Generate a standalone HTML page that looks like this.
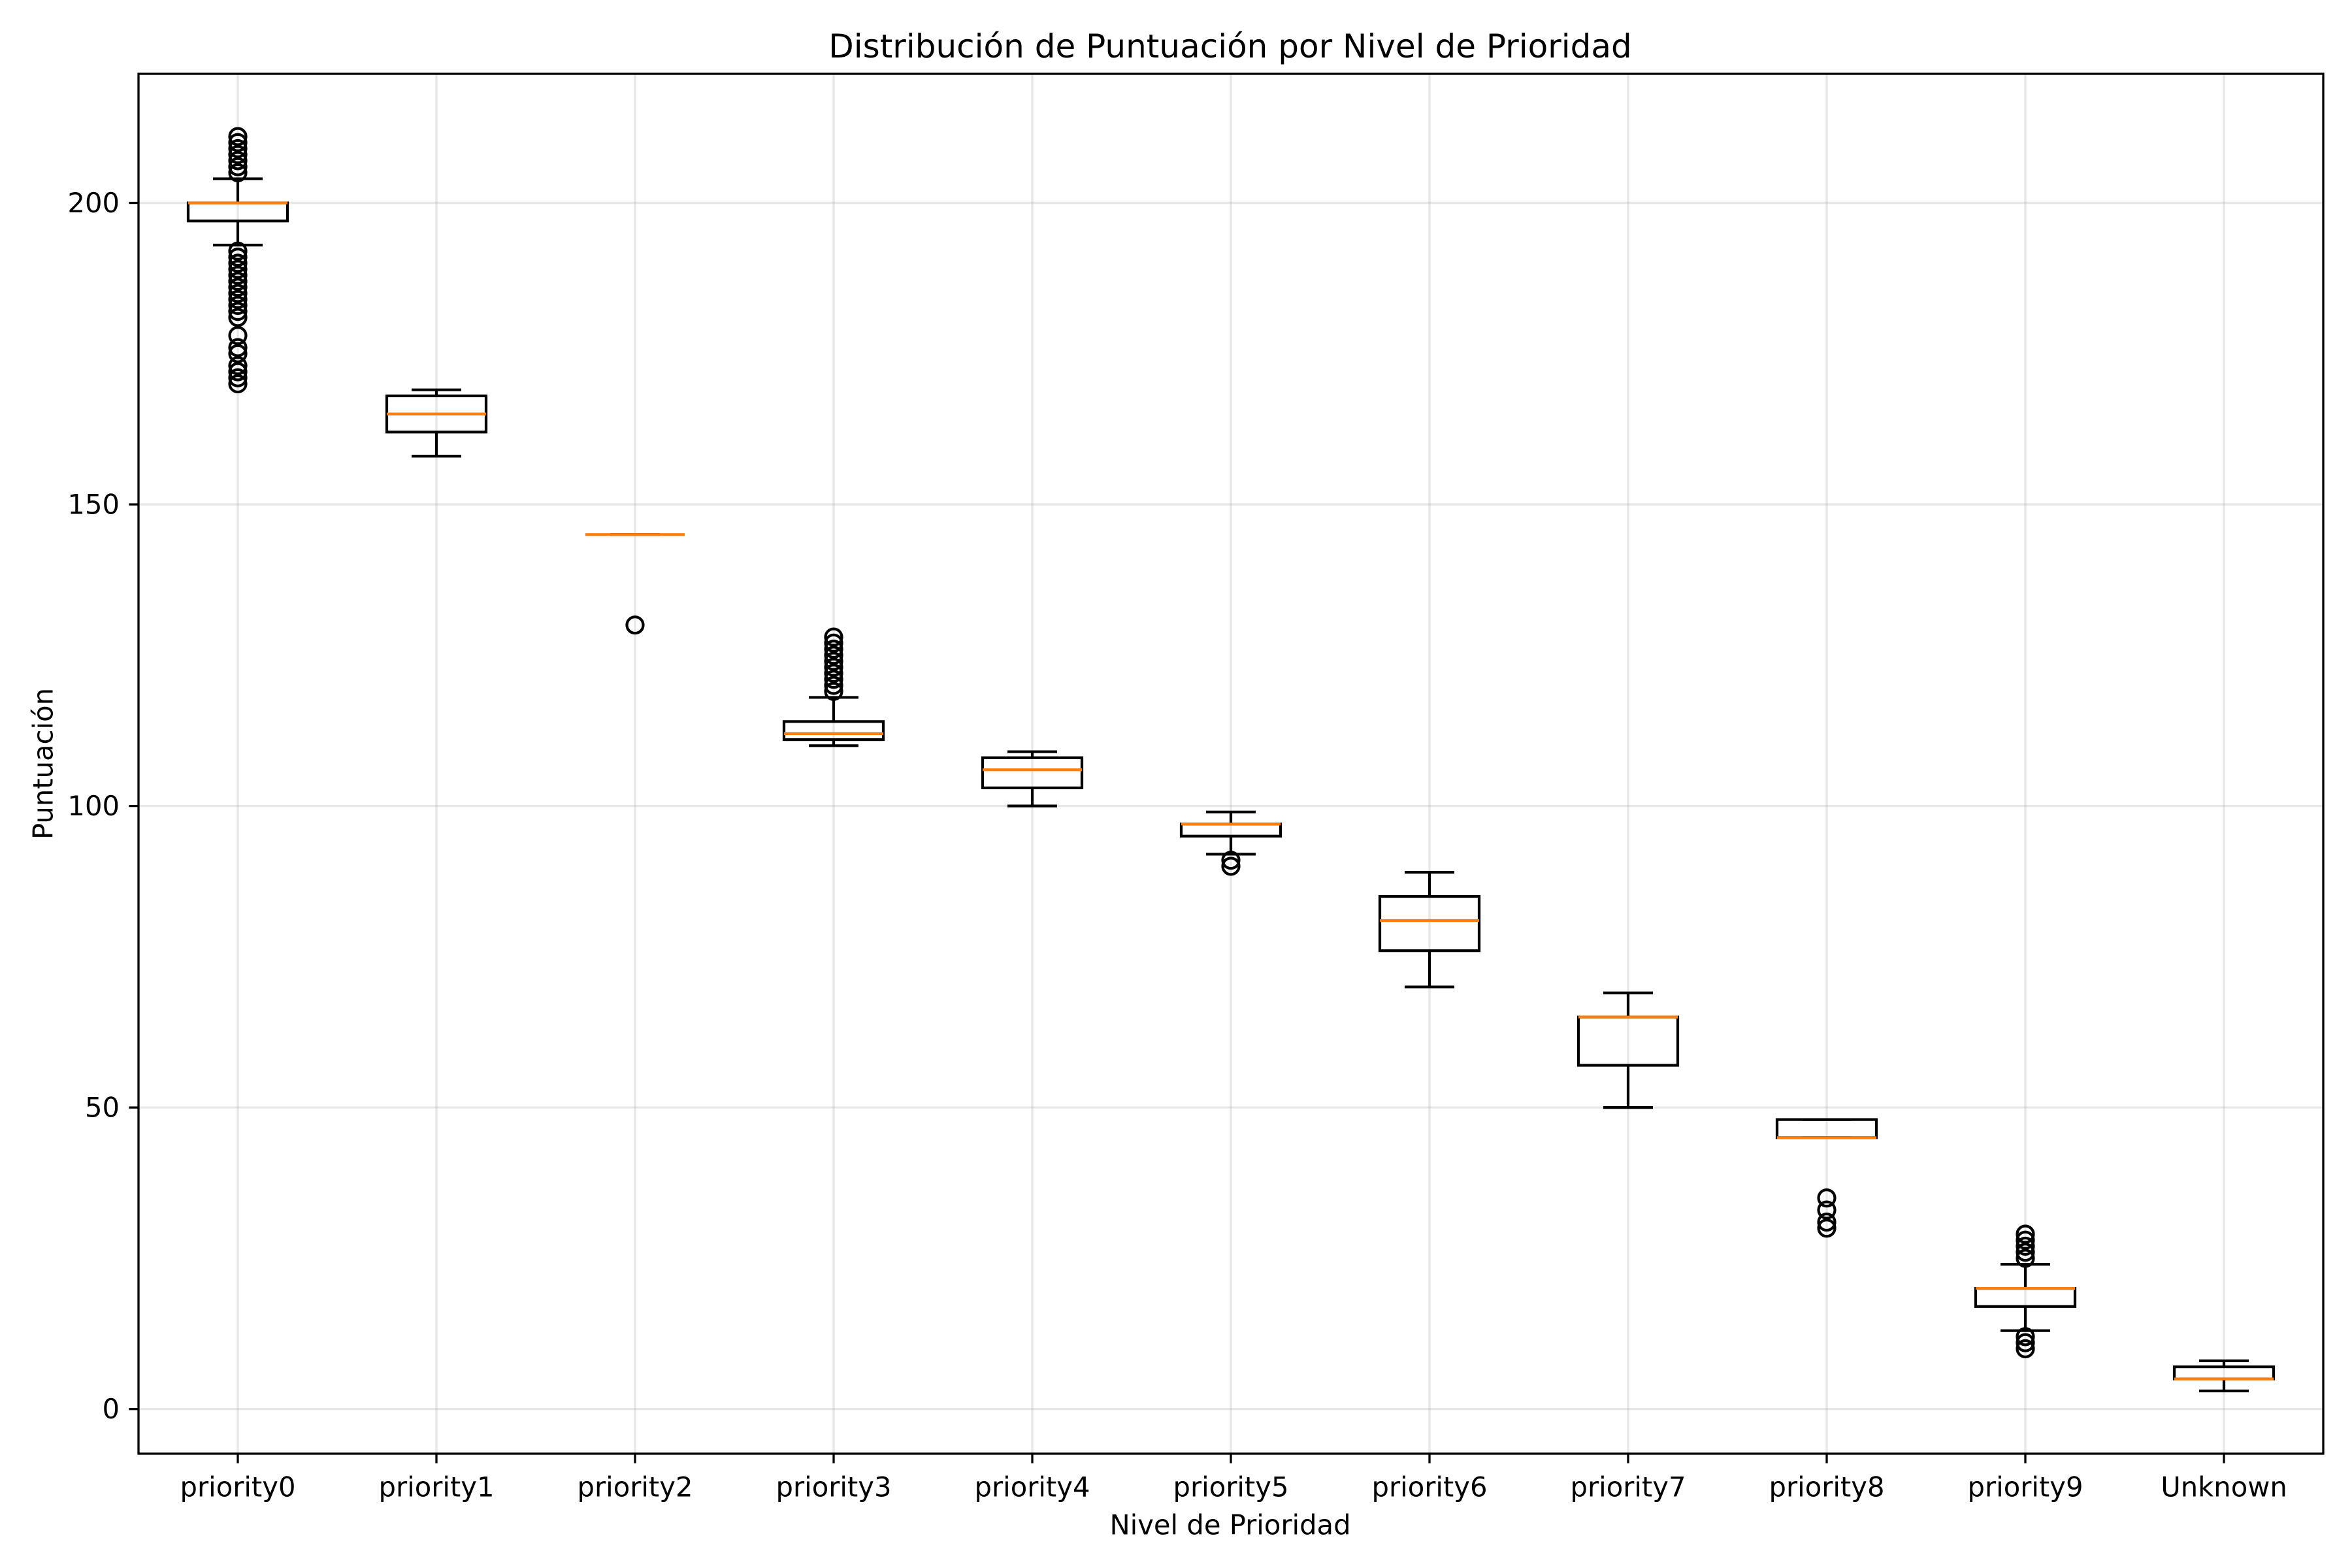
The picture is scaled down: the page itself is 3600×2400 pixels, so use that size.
<!DOCTYPE html>
<html><head><meta charset="utf-8"><style>
html,body{margin:0;padding:0;background:#fff;}
svg{display:block;font-family:"DejaVu Sans","Liberation Sans",sans-serif;}
</style></head><body>
<svg id="chart" width="3600" height="2400" viewBox="0 0 3600 2400" xmlns="http://www.w3.org/2000/svg">
<rect width="3600" height="2400" fill="#fff"/>
<g id="grid"></g>
<g id="boxes"></g>
<g id="axes"></g>
<text x="1883" y="71" font-size="50" text-anchor="middle" dominant-baseline="central">Distribución de Puntuación por Nivel de Prioridad</text>
<text x="1883" y="2334" font-size="41.7" text-anchor="middle" dominant-baseline="central">Nivel de Prioridad</text>
<text x="0" y="0" font-size="41.7" text-anchor="middle" dominant-baseline="central" transform="translate(66,1169) rotate(-90)">Puntuación</text>
</svg>
<script>
const categories = ["priority0","priority1","priority2","priority3","priority4","priority5","priority6","priority7","priority8","priority9","Unknown"];
const whiskerLow  = [193,158,145,110,100,92,70,50,45,13,3];
const q1Values    = [197,162,145,111,103,95,76,57,45,17,5];
const medianValues= [200,165,145,112,106,97,81,65,45,20,5];
const q3Values    = [200,168,145,114,108,97,85,65,48,20,7];
const whiskerHigh = [204,169,145,118,109,99,89,69,48,24,8];
const outliers = [
  [205,206,207,208,209,210,211,192,191,190,189,188,187,186,185,184,183,182,181,178,176,175,173,172,171,170],
  [],
  [130],
  [119,120,121,122,123,124,125,126,127,128],
  [],
  [90,91],
  [],
  [],
  [30,31,33,35],
  [25,26,27,28,29,10,11,12],
  []
];
const yTicks = [0,50,100,150,200];

const NS="http://www.w3.org/2000/svg";
const L=212,R=3556,T=113,B=2225;
const yMin=-7.4,yMax=221.4;
function sx(i){return L+(i+0.5)*(R-L)/categories.length;}
function sy(v){return B-(v-yMin)/(yMax-yMin)*(B-T);}
function mk(tag,attrs,parent){const e=document.createElementNS(NS,tag);for(const k in attrs)e.setAttribute(k,attrs[k]);parent.appendChild(e);return e;}
const grid=document.getElementById('grid'),boxes=document.getElementById('boxes'),axes=document.getElementById('axes');
const hw=(R-L)/categories.length*0.25, cw=hw/2;

yTicks.forEach(v=>{
  const y=sy(v);
  const g=mk('line',{x1:L,x2:R,y1:y,y2:y,stroke:'#b0b0b0','stroke-opacity':0.3,'stroke-width':3.3},grid);
  
  
  const t=mk('line',{x1:L-14.6,x2:L,y1:y,y2:y,stroke:'#000','stroke-width':3.3},axes);
  
  
  const lb=mk('text',{x:L-29,y:y,'font-size':41.7,'text-anchor':'end','dominant-baseline':'central'},axes);
  lb.textContent=v;
  
  
});
categories.forEach((c,i)=>{
  const x=sx(i);
  const g=mk('line',{x1:x,x2:x,y1:T,y2:B,stroke:'#b0b0b0','stroke-opacity':0.3,'stroke-width':3.3},grid);
  
  
  const t=mk('line',{x1:x,x2:x,y1:B,y2:B+14.6,stroke:'#000','stroke-width':3.3},axes);
  
  
  const lb=mk('text',{x:x,y:2276,'font-size':41.7,'text-anchor':'middle','dominant-baseline':'central'},axes);
  lb.textContent=c;
  
  

  const grp=mk('g',{},boxes);
  
  
  const st={stroke:'#000','stroke-width':4.2,fill:'none'};
  mk('line',Object.assign({x1:x,x2:x,y1:sy(q1Values[i]),y2:sy(whiskerLow[i])},st),grp);
  mk('line',Object.assign({x1:x,x2:x,y1:sy(q3Values[i]),y2:sy(whiskerHigh[i])},st),grp);
  mk('line',Object.assign({x1:x-cw,x2:x+cw,y1:sy(whiskerLow[i]),y2:sy(whiskerLow[i])},st),grp);
  mk('line',Object.assign({x1:x-cw,x2:x+cw,y1:sy(whiskerHigh[i]),y2:sy(whiskerHigh[i])},st),grp);
  mk('rect',Object.assign({x:x-hw,y:sy(q3Values[i]),width:2*hw,height:Math.max(0,sy(q1Values[i])-sy(q3Values[i]))},st),grp);
  const m=mk('line',{x1:x-hw,x2:x+hw,y1:sy(medianValues[i]),y2:sy(medianValues[i]),stroke:'#ff7f0e','stroke-width':4.2},grp);
  
  
  outliers[i].forEach(v=>{
    const o=mk('circle',{cx:x,cy:sy(v),r:12.5,fill:'none',stroke:'#000','stroke-width':4.2},grp);
    
    
  });
});
const fr=mk('rect',{x:L,y:T,width:R-L,height:B-T,fill:'none',stroke:'#000','stroke-width':3.3},axes);


</script>
</body></html>
